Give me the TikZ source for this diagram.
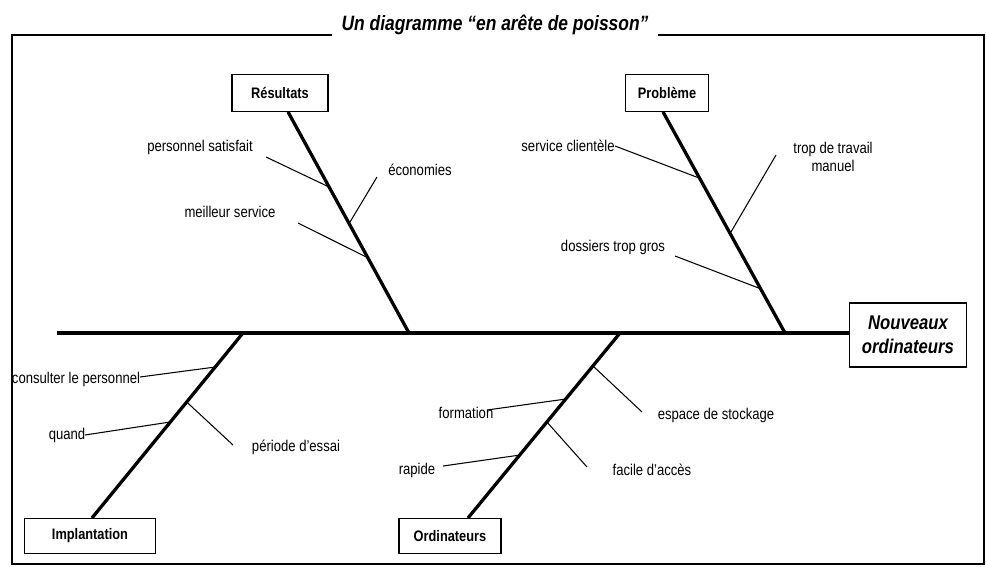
\documentclass[tikz,border=0pt]{standalone}
\usepackage{fontspec}
\setmainfont[FakeStretch=0.84]{Liberation Sans}
\usetikzlibrary{calc}

\begin{document}
\begin{tikzpicture}[x=0.03cm,y=-0.03cm,
  frame/.style={line width=1.2pt},
  spine/.style={line width=3.2pt},
  bone/.style={line width=2.8pt},
  twig/.style={line width=0.9pt},
  cause/.style={draw,line width=0.9pt,inner sep=0pt,minimum height=1.1cm,
    font=\fontsize{13}{15}\selectfont\bfseries},
  lbl/.style={inner sep=0pt,font=\fontsize{13.3}{16}\selectfont}]
\useasboundingbox (0,0) rectangle (986,567);

% Title and frame
\node[anchor=base,inner xsep=8pt,font=\fontsize{17.7}{20}\selectfont\bfseries\itshape]
  (title) at (495,31) {Un diagramme “en arête de poisson”};
\draw[frame] (title.west |- 0,35) -- (12,35) |- (984,564) |- (title.east |- 0,35);

% Head and spine
\node[draw,line width=0.9pt,inner sep=0pt,minimum width=3.51cm,minimum height=1.92cm,
  align=center,font=\fontsize{17}{20.5}\selectfont\bfseries\itshape]
  (head) at (908,335) {Nouveaux\\ordinateurs};
\coordinate (tail) at (57,333);
\draw[spine] (tail) -- (tail -| head.west);

% Cause boxes
\node[cause,minimum width=2.88cm] (res) at (280,93) {Résultats};
\node[cause,minimum width=2.49cm] (prob) at (667,93) {Problème};
\node[cause,minimum width=3.93cm,minimum height=1.05cm] (impl) at (90,536) {Implantation};
\node[cause,minimum width=3.06cm,minimum height=1.05cm] (ordi) at (450,536) {Ordinateurs};

% Bones
\coordinate (rS) at (409,333);
\coordinate (pS) at (785,333);
\coordinate (iS) at (243,333);
\coordinate (oS) at (620,333);
\coordinate (rT) at ($(res.south)+(8,0)$);
\coordinate (pT) at ($(prob.south)+(-4,0)$);
\coordinate (iT) at ($(impl.north)+(2,0)$);
\coordinate (oT) at ($(ordi.north)+(18,0)$);
\draw[bone] (rT) -- (rS);
\draw[bone] (pT) -- (pS);
\draw[bone] (iT) -- (iS);
\draw[bone] (oT) -- (oS);

% Resultats branch
\node[lbl] (perso) at (200,147) {personnel satisfait};
\node[lbl] (econ) at (420,170) {économies};
\node[lbl] (meil) at (230,212) {meilleur service};
\coordinate (persoE) at (266,157);
\coordinate (econE) at (377,177);
\coordinate (meilE) at (298,223);
\draw[twig] (persoE) -- ($(rT)!0.34!(rS)$);
\draw[twig] (econE) -- ($(rT)!0.505!(rS)$);
\draw[twig] (meilE) -- ($(rT)!0.66!(rS)$);

% Probleme branch
\node[lbl] (serv) at (568,146) {service clientèle};
\node[lbl,align=center] (trop) at (833,157) {trop de travail\\manuel};
\node[lbl] (doss) at (613,247) {dossiers trop gros};
\coordinate (servE) at (615,146);
\coordinate (tropE) at (776,155);
\coordinate (dossE) at (675,256);
\draw[twig] (servE) -- ($(pT)!0.30!(pS)$);
\draw[twig] (tropE) -- ($(pT)!0.55!(pS)$);
\draw[twig] (dossE) -- ($(pT)!0.80!(pS)$);

% Implantation branch
\node[lbl] (cons) at (76,379) {consulter le personnel};
\node[lbl] (quand) at (67,435) {quand};
\node[lbl] (essai) at (296,447) {période d’essai};
\coordinate (consE) at (140,377);
\coordinate (quandE) at (85,435);
\coordinate (essaiE) at (233,445);
\draw[twig] (consE) -- ($(iT)!0.816!(iS)$);
\draw[twig] (quandE) -- ($(iT)!0.519!(iS)$);
\draw[twig] (essaiE) -- ($(iT)!0.627!(iS)$);

% Ordinateurs branch
\node[lbl] (form) at (466,413) {formation};
\node[lbl] (stock) at (716,415) {espace de stockage};
\node[lbl] (rap) at (417,470) {rapide};
\node[lbl] (acces) at (652,470) {facile d’accès};
\coordinate (formE) at (487,410);
\coordinate (stockE) at (642,412);
\coordinate (rapE) at (443,466);
\coordinate (accesE) at (587,467);
\draw[twig] (formE) -- ($(oT)!0.643!(oS)$);
\draw[twig] (stockE) -- ($(oT)!0.822!(oS)$);
\draw[twig] (rapE) -- ($(oT)!0.34!(oS)$);
\draw[twig] (accesE) -- ($(oT)!0.519!(oS)$);
\end{tikzpicture}
\end{document}
